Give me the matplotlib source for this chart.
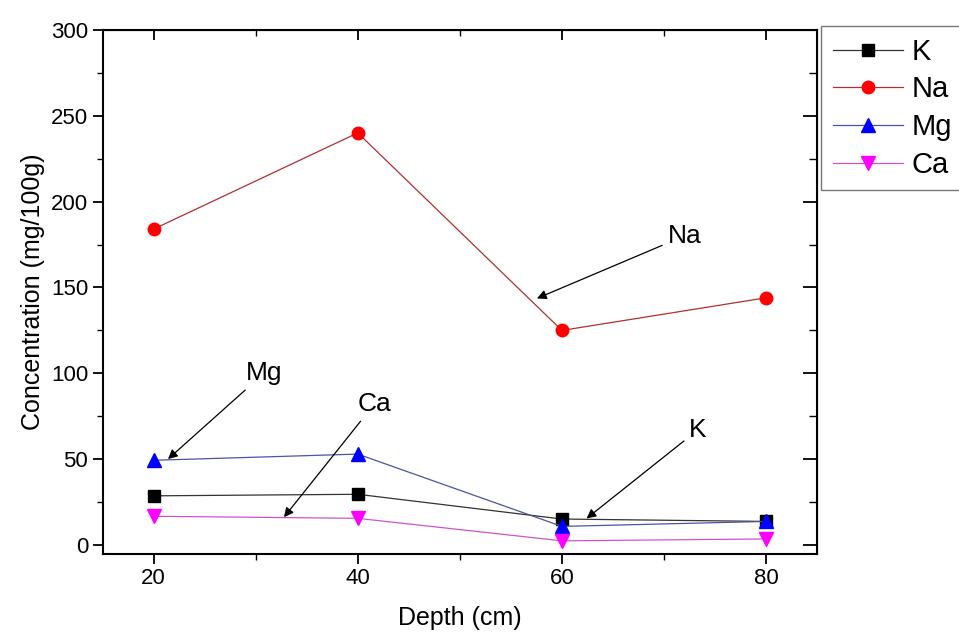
import matplotlib
matplotlib.use('Agg')
import matplotlib.pyplot as plt
from matplotlib.ticker import MultipleLocator

plt.rcParams['font.family'] = ['Liberation Sans', 'DejaVu Sans']

# data
depth = [20, 40, 60, 80]
K = [28.7, 29.6, 15.2, 13.8]
Na = [184, 240, 125, 144]
Mg = [49.4, 53.0, 10.9, 13.8]
Ca = [16.8, 15.6, 2.5, 3.6]

fig = plt.figure(figsize=(9.59, 6.35), dpi=100)
ax = fig.add_axes([0.107, 0.128, 0.745, 0.825])

ax.plot(depth, K, color='#333333', lw=0.9, marker='s', ms=8, mfc='black', mec='black', label='K')
ax.plot(depth, Na, color='#b03030', lw=0.9, marker='o', ms=9, mfc='red', mec='red', label='Na')
ax.plot(depth, Mg, color='#4a55a0', lw=0.9, marker='^', ms=10, mfc='blue', mec='blue', label='Mg')
ax.plot(depth, Ca, color='#cc55cc', lw=0.9, marker='v', ms=10, mfc='magenta', mec='magenta', label='Ca')

ax.set_xlim(15, 85)
ax.set_ylim(-5, 300)
ax.xaxis.set_major_locator(MultipleLocator(20))
ax.xaxis.set_minor_locator(MultipleLocator(10))
ax.yaxis.set_major_locator(MultipleLocator(50))
ax.yaxis.set_minor_locator(MultipleLocator(25))

for s in ax.spines.values():
    s.set_linewidth(1.5)

ax.tick_params(which='major', direction='out', length=7, width=1.3, labelsize=16)
ax.tick_params(which='minor', direction='out', length=4, width=1.0)
# inward ticks on top and right
axt = ax.secondary_xaxis('top')
axt.xaxis.set_major_locator(MultipleLocator(20))
axt.xaxis.set_minor_locator(MultipleLocator(10))
axt.tick_params(which='major', direction='in', length=7, width=1.3, labeltop=False)
axt.tick_params(which='minor', direction='in', length=4, width=1.0)
axr = ax.secondary_yaxis('right')
axr.yaxis.set_major_locator(MultipleLocator(50))
axr.yaxis.set_minor_locator(MultipleLocator(25))
axr.tick_params(which='major', direction='in', length=10, width=1.3, labelright=False)
axr.tick_params(which='minor', direction='in', length=6, width=1.0)

ax.set_xlabel('Depth (cm)', fontsize=18, labelpad=12)
ax.set_ylabel('Concentration (mg/100g)', fontsize=18, labelpad=4)

# annotations
arrow = dict(arrowstyle='-|>', color='black', lw=0.9, mutation_scale=14)
ax.annotate('Mg', xy=(21.2, 49), xytext=(30.8, 100), fontsize=19, ha='center', va='center', arrowprops=arrow)
ax.annotate('Ca', xy=(32.6, 15), xytext=(41.6, 82), fontsize=19, ha='center', va='center', arrowprops=arrow)
ax.annotate('K', xy=(62.2, 14.5), xytext=(73.3, 67), fontsize=19, ha='center', va='center', arrowprops=arrow)
ax.annotate('Na', xy=(57.3, 143), xytext=(72.0, 180), fontsize=19, ha='center', va='center', arrowprops=arrow)

leg = ax.legend(loc='upper left', bbox_to_anchor=(1.006, 1.007), fontsize=21, frameon=True,
                fancybox=False, edgecolor='#555555', handlelength=2.4, borderpad=0.4,
                labelspacing=0.33, handletextpad=0.3, borderaxespad=0)
leg.get_frame().set_linewidth(1.0)

fig.savefig('out.png', dpi=100)
